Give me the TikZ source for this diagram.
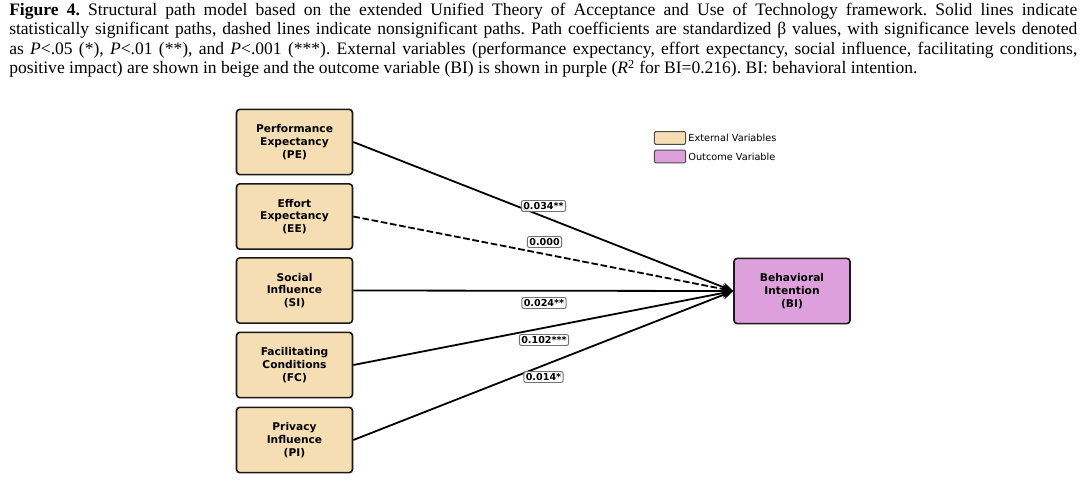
\documentclass[tikz,border=0pt]{standalone}
\usepackage{fontspec}
\setmainfont{Liberation Serif}
\newfontfamily\dv{DejaVu Sans}
\usetikzlibrary{arrows.meta}
\definecolor{beigevar}{HTML}{F5DEB3}
\definecolor{plumvar}{HTML}{DDA0DD}
\frenchspacing
\begin{document}
\begin{tikzpicture}[x=0.75pt,y=-0.75pt,
  var/.style={draw=black!90, line width=1.2pt, rounded corners=2.5pt,
    minimum width=87pt, minimum height=49pt, inner sep=0pt, align=center,
    font=\dv\bfseries\fontsize{8}{9.5}\selectfont},
  ext/.style={var, fill=beigevar},
  outc/.style={var, fill=plumvar},
  pathline/.style={line width=1.35pt, -{Stealth[length=8.5pt,width=7pt]}},
  coef/.style={draw=black!55, fill=white, fill opacity=0.85, text opacity=1,
    rounded corners=1.5pt, inner sep=1.4pt, line width=0.7pt,
    font=\dv\bfseries\fontsize{7.2}{8}\selectfont},
  capline/.style={anchor=base west, inner sep=0pt, font=\fontsize{13.15}{15}\selectfont},
  swatch/.style={draw=black!70, line width=0.7pt, rounded corners=1pt,
    minimum width=23.5pt, minimum height=9.5pt, inner sep=0pt},
  legtext/.style={anchor=west, inner sep=0pt, font=\dv\fontsize{7.3}{8}\selectfont}
]
\useasboundingbox (0,0) rectangle (1080,481);
\fill[white] (0,0) rectangle (1080,481);
% caption
\node[capline] (c1) at (9,15.5) {\makebox[801pt][s]{\textbf{Figure 4.} Structural path model based on the extended Unified Theory of Acceptance and Use of Technology framework. Solid lines indicate}};
\node[capline] (c2) at (9,35) {\makebox[801pt][s]{statistically significant paths, dashed lines indicate nonsignificant paths. Path coefficients are standardized β values, with significance levels denoted}};
\node[capline] (c3) at (9,54.5) {\makebox[801pt][s]{as \textit{P}<.05 (*), \textit{P}<.01 (**), and \textit{P}<.001 (***). External variables (performance expectancy, effort expectancy, social influence, facilitating conditions,}};
\node[capline] (c4) at (9,74) {positive impact) are shown in beige and the outcome variable (BI) is shown in purple (\textit{R}\textsuperscript{2} for BI=0.216). BI: behavioral intention.};
% boxes
\node[ext] (pe) at (294.5,142) {Performance\\Expectancy\\(PE)};
\node[ext] (ee) at (294.5,216.5) {Effort\\Expectancy\\(EE)};
\node[ext] (si) at (294.5,290.5) {Social\\Influence\\(SI)};
\node[ext] (fc) at (294.5,365) {Facilitating\\Conditions\\(FC)};
\node[ext] (pi) at (294.5,440) {Privacy\\Influence\\(PI)};
\node[outc] (bi) at (792,291) {Behavioral\\Intention\\(BI)};
% paths
\draw[pathline] (pe.east) -- (bi.west);
\draw[pathline, dashed, dash pattern=on 5pt off 2pt] (ee.east) -- (bi.west);
\draw[pathline] (si.east) -- (bi.west);
\draw[pathline] (fc.east) -- (bi.west);
\draw[pathline] (pi.east) -- (bi.west);
% coefficients
\node[coef] (k1) at (543.5,206) {0.034**};
\node[coef] (k2) at (544.5,242) {0.000};
\node[coef] (k3) at (544,303) {0.024**};
\node[coef] (k4) at (544,340) {0.102***};
\node[coef] (k5) at (543.5,377) {0.014*};
% legend
\node[swatch, fill=beigevar] (l1) at (670,138) {};
\node[swatch, fill=plumvar] (l2) at (670,156.5) {};
\node[legtext] (t1) at ([xshift=1.5pt]l1.east) {External Variables};
\node[legtext] (t2) at ([xshift=1.5pt]l2.east) {Outcome Variable};
\end{tikzpicture}
\end{document}
